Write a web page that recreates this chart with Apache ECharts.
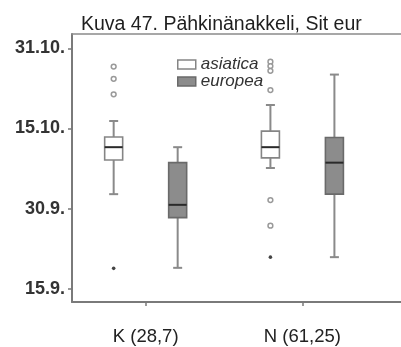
<!DOCTYPE html>
<html>
<head>
<meta charset="utf-8">
<script src="https://cdn.jsdelivr.net/npm/echarts@6/dist/echarts.min.js"></script>
<style>html,body{margin:0;padding:0;background:#fff}#c{width:401px;height:347px}</style>
</head>
<body>
<div id="c"></div>
<script>
// ---- data ----
const title = 'Kuva 47. Pähkinänakkeli, Sit eur';
const categories = ['K (28,7)', 'N (61,25)'];
const seriesNames = ['asiatica', 'europea'];
// y values in days counted from 0.9. (ticks evenly spaced as in picture)
const yTickValues = [15, 30, 45, 60];
const yTickLabels = ['15.9.', '30.9.', '15.10.', '31.10.'];
// box: [lowWhisker, q1, median, q3, highWhisker]
const asiaticaBox = [[32.7, 39.1, 41.5, 43.4, 46.4], [37.6, 39.5, 41.5, 44.5, 49.4]];
const europeaBox = [[18.9, 28.3, 30.7, 38.6, 41.5], [20.9, 32.7, 38.6, 43.3, 55.1]];
// outliers: [categoryIndex, value]
const asiaticaOutliers = [[0, 56.6], [0, 54.3], [0, 51.4], [1, 57.5], [1, 56.7], [1, 55.8], [1, 52.2], [1, 31.6], [1, 26.8]];
const asiaticaExtremes = [[0, 18.8], [1, 20.9]];
const europeaOutliers = [];
const europeaExtremes = [];

// ---- styles ----
const OFFSET = 32, BOXW = 18, CAPW = 9;
const styles = {
  asiatica: { fill: '#ffffff', stroke: '#858585' },
  europea: { fill: '#8c8c8c', stroke: '#6a6a6a' }
};

function boxRender(offset, st) {
  return function (params, api) {
    const ci = api.value(0);
    const vals = [api.value(1), api.value(2), api.value(3), api.value(4), api.value(5)];
    const pts = vals.map(v => api.coord([ci, v]));
    const cx = pts[0][0] + offset;
    const yLo = pts[0][1], yQ1 = pts[1][1], yMed = pts[2][1], yQ3 = pts[3][1], yHi = pts[4][1];
    const lineStyle = { stroke: '#8a8a8a', lineWidth: 2 };
    return {
      type: 'group',
      children: [
        { type: 'line', shape: { x1: cx, y1: yHi, x2: cx, y2: yQ3 }, style: lineStyle },
        { type: 'line', shape: { x1: cx, y1: yQ1, x2: cx, y2: yLo }, style: lineStyle },
        { type: 'line', shape: { x1: cx - CAPW / 2, y1: yHi, x2: cx + CAPW / 2, y2: yHi }, style: lineStyle },
        { type: 'line', shape: { x1: cx - CAPW / 2, y1: yLo, x2: cx + CAPW / 2, y2: yLo }, style: lineStyle },
        { type: 'rect', shape: { x: cx - BOXW / 2, y: yQ3, width: BOXW, height: yQ1 - yQ3 },
          style: { fill: st.fill, stroke: st.stroke, lineWidth: 1.6 } },
        { type: 'line', shape: { x1: cx - BOXW / 2, y1: yMed, x2: cx + BOXW / 2, y2: yMed },
          style: { stroke: '#2a2a2a', lineWidth: 2 } }
      ]
    };
  };
}
function pointRender(offset, extreme) {
  return function (params, api) {
    const p = api.coord([api.value(0), api.value(1)]);
    return {
      type: 'circle',
      shape: { cx: p[0] + offset, cy: p[1], r: extreme ? 1.8 : 2.4 },
      style: extreme ? { fill: '#444' } : { fill: '#fff', stroke: '#9a9a9a', lineWidth: 1.5 }
    };
  };
}
function boxData(arr) { return arr.map((b, i) => [i].concat(b)); }

const chart = echarts.init(document.getElementById('c'), null, { renderer: 'canvas' });
const font = '"Liberation Sans", Arial, sans-serif';
chart.setOption({
  animation: false,
  title: {
    text: title, left: 76, top: 10,
    textStyle: { fontFamily: font, fontSize: 19.5, fontWeight: 'normal', color: '#1e1e1e' }
  },
  legend: {
    orient: 'vertical', left: 172, top: 51, itemWidth: 18, itemHeight: 9, itemGap: 0,
    textStyle: { fontFamily: font, fontSize: 17, fontStyle: 'italic', color: '#333' },
    data: [
      { name: 'asiatica', icon: 'rect', itemStyle: { color: '#fff', borderColor: '#858585', borderWidth: 1.5 } },
      { name: 'europea', icon: 'rect', itemStyle: { color: '#8c8c8c', borderColor: '#6a6a6a', borderWidth: 1.5 } }
    ]
  },
  grid: { left: 72, top: 34, bottom: 45, right: -30 },
  xAxis: [{
    type: 'value', min: -0.47, max: 1.629, splitLine: { show: false },
    axisLine: { show: true, onZero: false, lineStyle: { color: '#7a7a7a', width: 2 } },
    axisTick: { show: true, length: 4, customValues: [0, 1], lineStyle: { color: '#7a7a7a', width: 1.5 } },
    axisLabel: { customValues: [0, 1], margin: 25, formatter: v => categories[Math.round(v)] || '',
      fontFamily: font, fontSize: 18.5, color: '#222' }
  }, {
    type: 'value', position: 'top', min: -0.47, max: 1.629, splitLine: { show: false },
    axisLine: { show: true, onZero: false, lineStyle: { color: '#8a8a8a', width: 1.5 } },
    axisTick: { show: false }, axisLabel: { show: false }
  }],
  yAxis: {
    type: 'value', min: 12.5, max: 62.7, splitLine: { show: false },
    axisLine: { show: true, onZero: false, lineStyle: { color: '#7a7a7a', width: 2 } },
    axisTick: { show: true, length: 4, customValues: yTickValues, lineStyle: { color: '#7a7a7a', width: 1.5 } },
    axisLabel: { customValues: yTickValues, margin: 7,
      formatter: v => yTickLabels[yTickValues.indexOf(v)] || '',
      fontFamily: font, fontSize: 18, fontWeight: 'bold', color: '#333' }
  },
  series: [
    { name: 'asiatica', type: 'custom', renderItem: boxRender(-OFFSET, styles.asiatica), data: boxData(asiaticaBox),
      itemStyle: { color: '#fff' }, encode: { x: 0, y: [1, 2, 3, 4, 5] } },
    { name: 'europea', type: 'custom', renderItem: boxRender(OFFSET, styles.europea), data: boxData(europeaBox),
      itemStyle: { color: '#8c8c8c' }, encode: { x: 0, y: [1, 2, 3, 4, 5] } },
    { name: 'asiatica', type: 'custom', renderItem: pointRender(-OFFSET, false), data: asiaticaOutliers },
    { name: 'asiatica', type: 'custom', renderItem: pointRender(-OFFSET, true), data: asiaticaExtremes },
    { name: 'europea', type: 'custom', renderItem: pointRender(OFFSET, false), data: europeaOutliers },
    { name: 'europea', type: 'custom', renderItem: pointRender(OFFSET, true), data: europeaExtremes }
  ]
});
</script>
</body>
</html>
